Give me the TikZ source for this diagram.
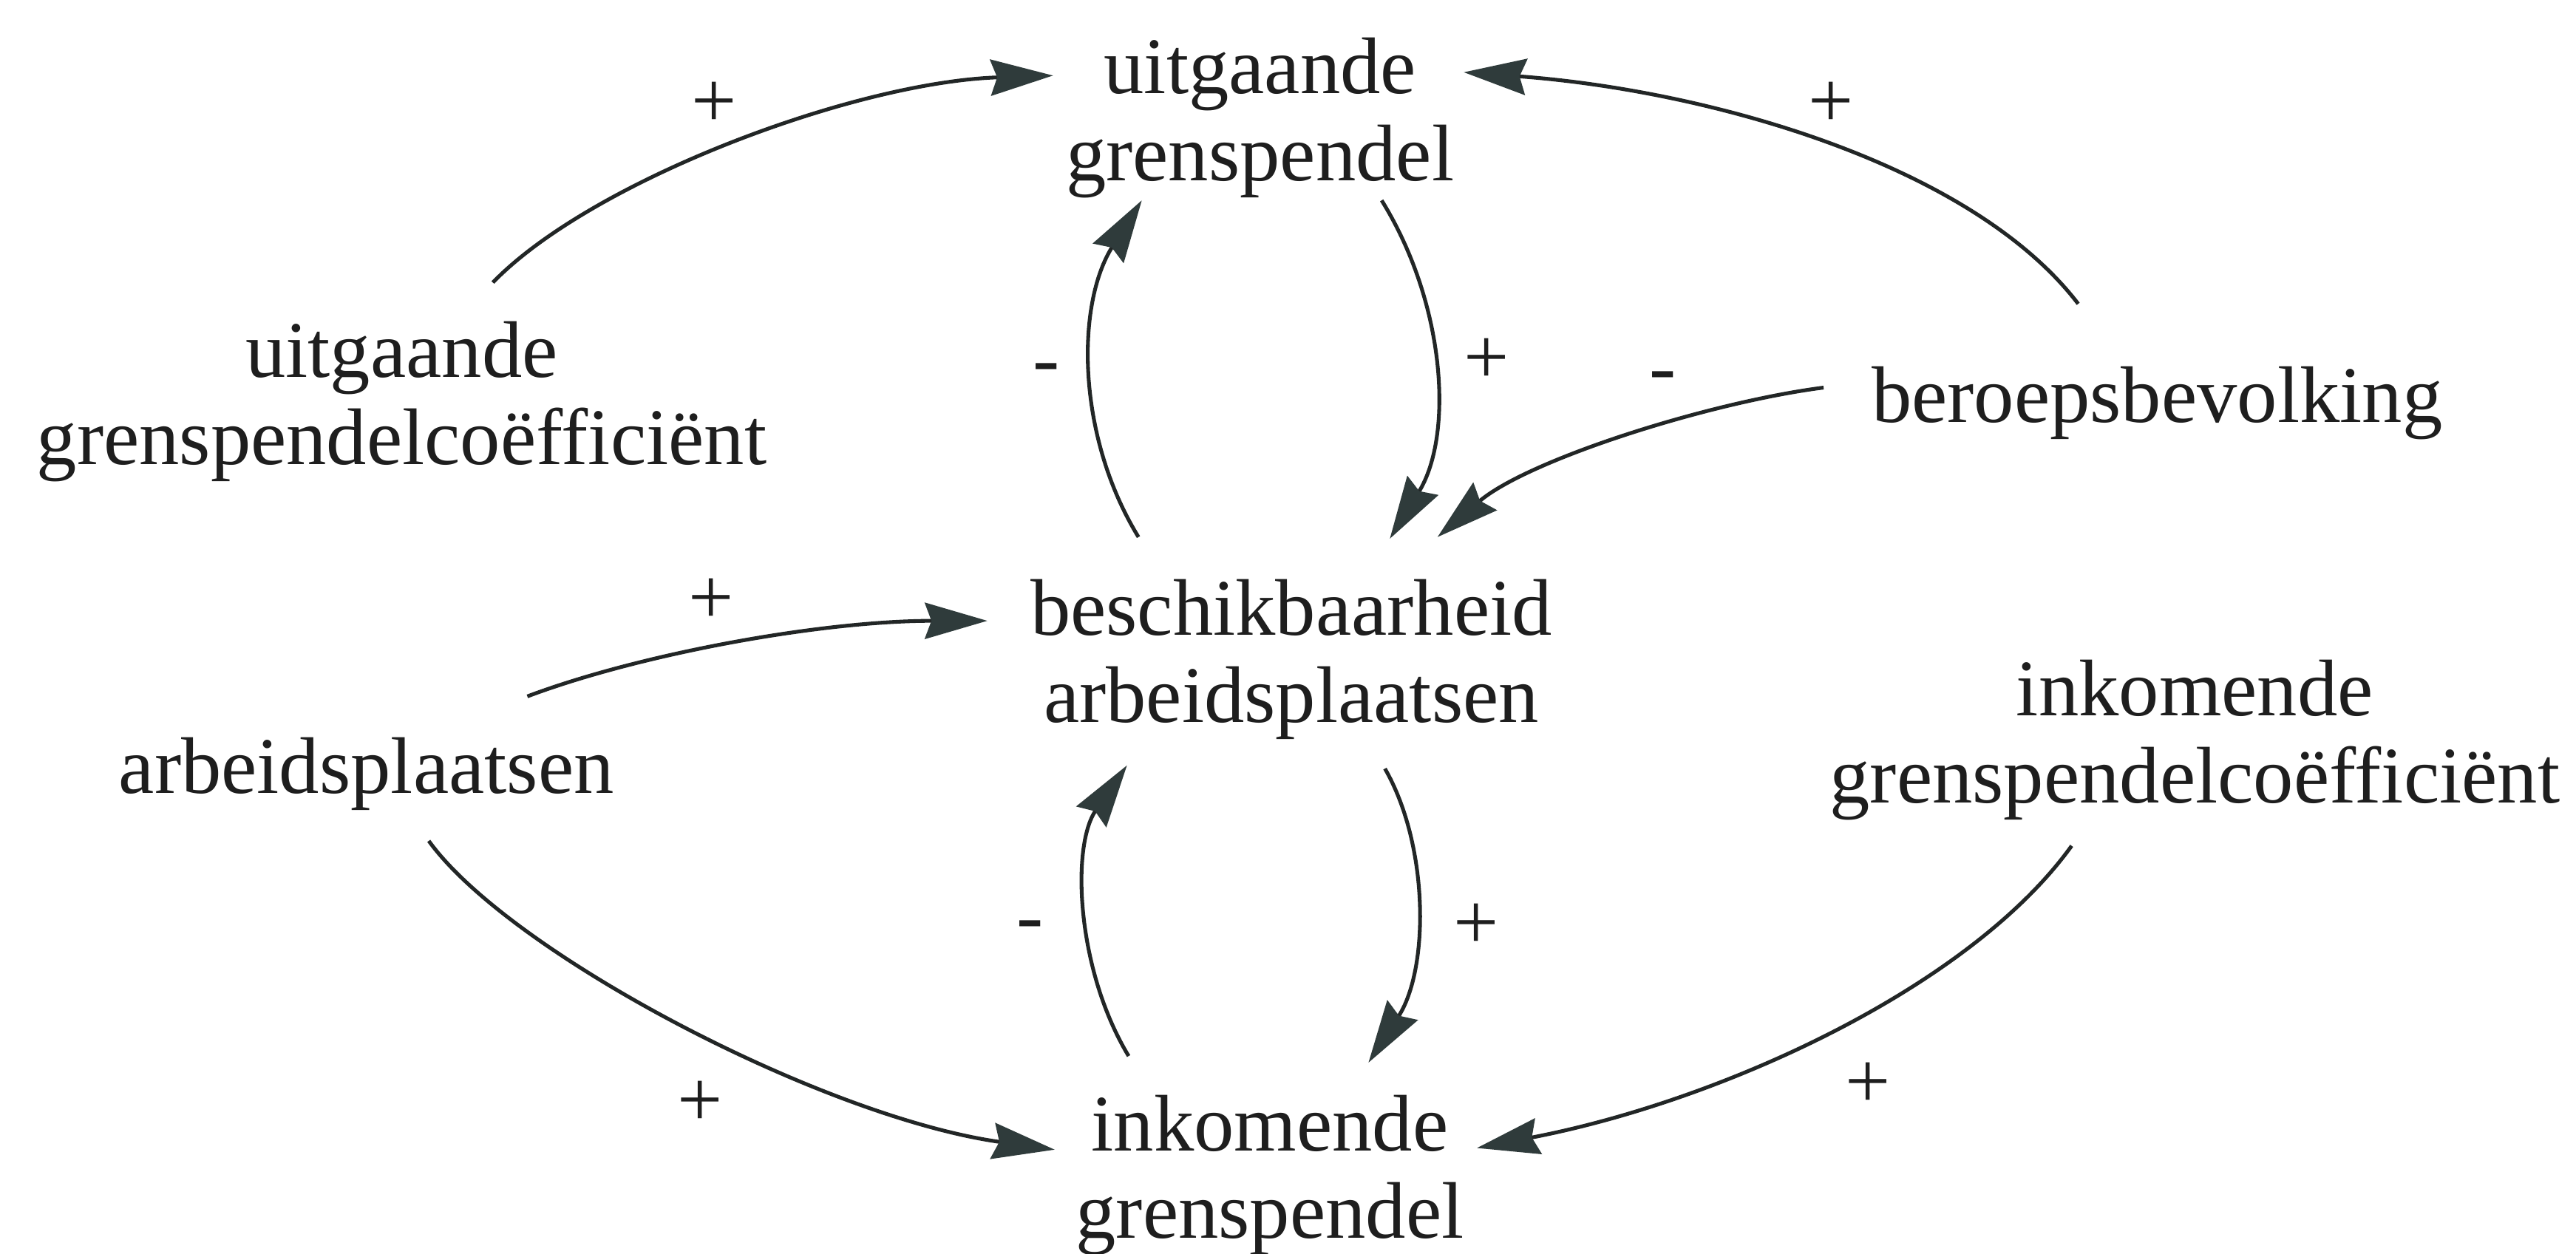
\documentclass[tikz,border=0pt]{standalone}
\usepackage{fontspec}
\setmainfont{Liberation Serif}
\usetikzlibrary{arrows.meta}

\definecolor{inkcol}{HTML}{1E1E1E}
\definecolor{linecol}{HTML}{222626}
\definecolor{headcol}{HTML}{2F3B3B}

\tikzset{
  concept/.style={font=\fontsize{13.9}{15.1}\selectfont, align=center,
    inner sep=0pt, anchor=base, text=inkcol},
  sign/.style={font=\fontsize{13.9}{15.1}\selectfont, inner sep=0pt, text=inkcol},
  link/.style={draw=linecol, line width=0.65pt,
    -{Stealth[length=3.8mm, width=2.2mm, inset=0.4mm, fill=headcol, color=headcol]}}
}

\begin{document}
\begin{tikzpicture}[x=0.01cm, y=-0.01cm]
  \useasboundingbox (0,0) rectangle (1568,763.5);

  % variables of the causal loop diagram (base = baseline of the last line)
  \node[concept] (UG)  at (767,110)   {uitgaande\\grenspendel};
  \node[concept] (UGC) at (244.5,283) {uitgaande\\grenspendelcoëfficiënt};
  \node[concept] (BB)  at (1313,257)  {beroepsbevolking};
  \node[concept] (BA)  at (786,440)   {beschikbaarheid\\arbeidsplaatsen};
  \node[concept] (AP)  at (223,483)   {arbeidsplaatsen};
  \node[concept] (IGC) at (1336,489)  {inkomende\\grenspendelcoëfficiënt};
  \node[concept] (IG)  at (773,754)   {inkomende\\grenspendel};

  % causal links
  \draw[link] ([shift={(55.5,-111)}]UGC.base) .. controls +(60,-62) and +(-121,4) .. ([shift={(-126,-64)}]UG.base);
  \draw[link] ([shift={(-48,-72)}]BB.base) .. controls +(-65,-85) and +(149,11) .. ([shift={(124,-66)}]UG.base);
  \draw[link] ([shift={(-93,-113)}]BA.base) .. controls +(-38,-62) and +(-40,63) .. ([shift={(-72,12)}]UG.base);
  \draw[link] ([shift={(74,12)}]UG.base) .. controls +(39,63) and +(39,-63) .. ([shift={(60,-112)}]BA.base);
  \draw[link] ([shift={(-203,-21)}]BB.base) .. controls +(-70,9) and +(55,-47) .. ([shift={(89,-113)}]BA.base);
  \draw[link] ([shift={(98,-59)}]AP.base) .. controls +(69,-26) and +(-101,0) .. ([shift={(-185,-62)}]BA.base);
  \draw[link] ([shift={(-86,-111)}]IG.base) .. controls +(-32,-53) and +(-34,49) .. ([shift={(-100,26)}]BA.base);
  \draw[link] ([shift={(57,28)}]BA.base) .. controls +(27,47) and +(37,-57) .. ([shift={(60,-107)}]IG.base);
  \draw[link] ([shift={(38,29)}]AP.base) .. controls +(49,68) and +(-142,-20) .. ([shift={(-131,-54)}]IG.base);
  \draw[link] ([shift={(-75,26)}]IGC.base) .. controls +(-61,85) and +(151,-29) .. ([shift={(126,-55)}]IG.base);

  % polarity signs
  \node[sign] (s1)  at (434.6,64)  {+};
  \node[sign] (s2)  at (1114.5,64) {+};
  \node[sign] (s3)  at (637,228)   {-};
  \node[sign] (s4)  at (905,220)   {+};
  \node[sign] (s5)  at (1012,233)  {-};
  \node[sign] (s6)  at (433,366)   {+};
  \node[sign] (s7)  at (627,567)   {-};
  \node[sign] (s8)  at (898.6,564) {+};
  \node[sign] (s9)  at (426,672)   {+};
  \node[sign] (s10) at (1137,661)  {+};
\end{tikzpicture}
\end{document}
